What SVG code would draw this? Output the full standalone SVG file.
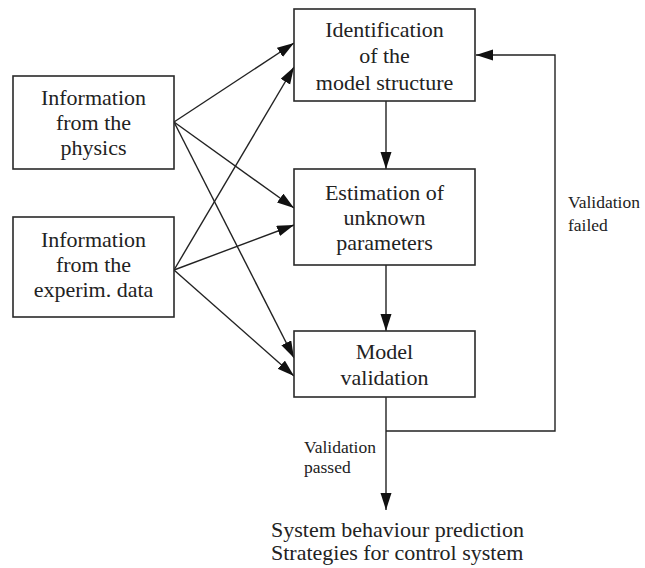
<svg xmlns="http://www.w3.org/2000/svg" width="645" height="568" viewBox="0 0 645 568">
<style>
.box{fill:#fff;stroke:#2a2a2a;stroke-width:1.6}
.c{fill:none;stroke:#222;stroke-width:1.4}
</style>
<defs>
<marker id="ah" markerWidth="18" markerHeight="12" refX="17" refY="5.5" orient="auto" markerUnits="userSpaceOnUse">
<path d="M0,0 L17,5.5 L0,11 Z" fill="#111"/>
</marker>
</defs>
<rect width="645" height="568" fill="#fff"/>
<g id="connectors">
<line class="c" x1="174" y1="122" x2="294" y2="43" marker-end="url(#ah)"/>
<line class="c" x1="174" y1="270" x2="294" y2="67" marker-end="url(#ah)"/>
<line class="c" x1="174" y1="122" x2="294" y2="208" marker-end="url(#ah)"/>
<line class="c" x1="174" y1="270" x2="294" y2="225" marker-end="url(#ah)"/>
<line class="c" x1="174" y1="122" x2="294" y2="358" marker-end="url(#ah)"/>
<line class="c" x1="174" y1="270" x2="294" y2="376" marker-end="url(#ah)"/>
<line class="c" x1="386" y1="101" x2="386" y2="169" marker-end="url(#ah)"/>
<line class="c" x1="386" y1="265" x2="386" y2="331" marker-end="url(#ah)"/>
<line class="c" x1="386" y1="397" x2="386" y2="510" marker-end="url(#ah)"/>
<polyline class="c" points="386,431 555,431 555,55 476,55" marker-end="url(#ah)"/>
<g font-family="Liberation Serif, Times New Roman, serif" font-size="17.5" fill="#222">
<text x="568" y="208">Validation</text>
<text x="568" y="231">failed</text>
<text x="304" y="453">Validation</text>
<text x="304" y="473">passed</text>
</g>
</g>
<g font-family="Liberation Serif, Times New Roman, serif" font-size="22" fill="#222" text-anchor="middle">
<g id="physics">
<rect class="box" x="13" y="76" width="161" height="93"/>
<text x="93.5" y="105">Information</text>
<text x="93.5" y="130">from the</text>
<text x="93.5" y="155">physics</text>
</g>
<g id="experim">
<rect class="box" x="13" y="217" width="161" height="100"/>
<text x="93.5" y="247">Information</text>
<text x="93.5" y="272">from the</text>
<text x="93.5" y="297">experim. data</text>
</g>
<g id="identification">
<rect class="box" x="294" y="9" width="181" height="92"/>
<text x="384.5" y="37">Identification</text>
<text x="384.5" y="63">of the</text>
<text x="384.5" y="90">model structure</text>
</g>
<g id="estimation">
<rect class="box" x="294" y="169" width="181" height="96"/>
<text x="384.5" y="200">Estimation of</text>
<text x="384.5" y="225">unknown</text>
<text x="384.5" y="250">parameters</text>
</g>
<g id="validation">
<rect class="box" x="294" y="331" width="181" height="66"/>
<text x="384.5" y="359">Model</text>
<text x="384.5" y="385">validation</text>
</g>
<g id="output" text-anchor="start">
<text x="271" y="537">System behaviour prediction</text>
<text x="271" y="560">Strategies for control system</text>
</g>
</g>
</svg>
